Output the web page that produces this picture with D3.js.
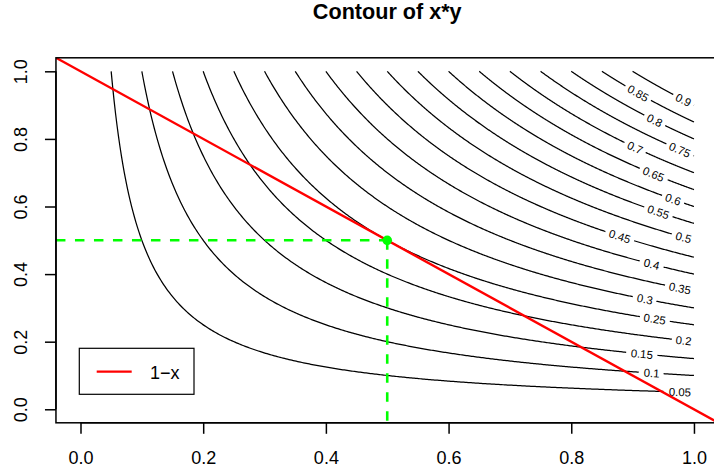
<!DOCTYPE html>
<html>
<head>
<meta charset="utf-8">
<script src="https://cdn.jsdelivr.net/npm/d3@7"></script>
<style>
  html, body { margin: 0; padding: 0; background: #fff; }
  svg { display: block; }
  text { font-family: "Liberation Sans", Arial, Helvetica, sans-serif; }
</style>
</head>
<body>
<svg id="chart" width="714" height="474"></svg>
<script>
// ---- data ----
const title = "Contour of x*y";
const levels = [0.05, 0.1, 0.15, 0.2, 0.25, 0.3, 0.35, 0.4, 0.45, 0.5, 0.55, 0.6, 0.65, 0.7, 0.75, 0.8, 0.85, 0.9];
const levelLabels = ["0.05","0.1","0.15","0.2","0.25","0.3","0.35","0.4","0.45","0.5","0.55","0.6","0.65","0.7","0.75","0.8","0.85","0.9"];
const labelX = [0.977, 0.931, 0.915, 0.983, 0.936, 0.920, 0.977, 0.931, 0.879, 0.983, 0.942, 0.966, 0.934, 0.904, 0.977, 0.936, 0.909, 0.983];
const xTicks = [0, 0.2, 0.4, 0.6, 0.8, 1.0];
const xTickLabels = ["0.0", "0.2", "0.4", "0.6", "0.8", "1.0"];
const yTicks = [0, 0.2, 0.4, 0.6, 0.8, 1.0];
const yTickLabels = ["0.0", "0.2", "0.4", "0.6", "0.8", "1.0"];
const lineX = [-0.04, 1.04];          // 1 - x
const lineIntercept = 1;
const lineSlope = -1;
const optimum = [0.5, 0.5];
const legendLabels = ["1\u2212x"];
const gridRange = [0, 1];

// ---- layout ----
const svg = d3.select("#chart");
const x = d3.scaleLinear().domain([-0.04, 1.04]).range([55.96, 718.5]);
const y = d3.scaleLinear().domain([-0.04, 1.04]).range([422.8, 57.8]);
const [px0, px1] = x.range();
const [py0, py1] = y.range();

svg.append("defs").append("clipPath").attr("id", "plotclip")
  .append("rect").attr("x", px0).attr("y", py1).attr("width", px1 - px0).attr("height", py0 - py1);

const plot = svg.append("g").attr("clip-path", "url(#plotclip)");

// ---- contours ----
const labelSize = 11.4;
const measure = svg.append("text").attr("font-size", labelSize).attr("visibility", "hidden");
levels.forEach((c, i) => {
  // sample the iso-line x*y = c over the grid range
  const xs = [];
  const n = 400;
  const xStart = Math.max(gridRange[0], c / gridRange[1]);
  for (let k = 0; k <= n; k++) xs.push(xStart + (gridRange[1] - xStart) * k / n);
  const pts = xs.map(v => [x(v), y(c / v)]);
  // arclength
  const s = [0];
  for (let k = 1; k < pts.length; k++) {
    s.push(s[k - 1] + Math.hypot(pts[k][0] - pts[k - 1][0], pts[k][1] - pts[k - 1][1]));
  }
  const lx = x(labelX[i]), ly = y(c / labelX[i]);
  let kc = 0, best = Infinity;
  pts.forEach((p, k) => { const d = Math.hypot(p[0] - lx, p[1] - ly); if (d < best) { best = d; kc = k; } });
  const sc = s[kc];
  measure.text(levelLabels[i]);
  const w = measure.node().getComputedTextLength();
  const half = w / 2 + 3.5;
  const seg1 = pts.filter((p, k) => s[k] <= sc - half);
  const seg2 = pts.filter((p, k) => s[k] >= sc + half);
  const line = d3.line();
  [seg1, seg2].forEach(seg => {
    if (seg.length > 1) plot.append("path").attr("d", line(seg))
      .attr("fill", "none").attr("stroke", "#000").attr("stroke-width", 1.25);
  });
  const a = pts[Math.max(0, kc - 3)], b = pts[Math.min(pts.length - 1, kc + 3)];
  const ang = Math.atan2(b[1] - a[1], b[0] - a[0]) * 180 / Math.PI;
  plot.append("text")
    .attr("transform", `translate(${lx},${ly}) rotate(${ang})`)
    .attr("text-anchor", "middle")
    .attr("dy", "0.36em")
    .attr("font-size", labelSize)
    .attr("fill", "#000")
    .text(levelLabels[i]);
});
measure.remove();

// ---- red line 1 - x ----
plot.append("path")
  .attr("d", d3.line()(lineX.map(v => [x(v), y(lineIntercept + lineSlope * v)])))
  .attr("stroke", "#ff0000").attr("stroke-width", 2.4).attr("fill", "none");

// ---- green dashed guides ----
plot.append("path")
  .attr("d", d3.line()([[x(-0.04), y(optimum[1])], [x(optimum[0]), y(optimum[1])]]))
  .attr("stroke", "#00ff00").attr("stroke-width", 2.6).attr("stroke-dasharray", "9.5,9.5").attr("fill", "none");
plot.append("path")
  .attr("d", d3.line()([[x(optimum[0]), y(optimum[1])], [x(optimum[0]), y(-0.04)]]))
  .attr("stroke", "#00ff00").attr("stroke-width", 2.6).attr("stroke-dasharray", "9.5,9.5").attr("fill", "none");
plot.append("circle")
  .attr("cx", x(optimum[0])).attr("cy", y(optimum[1])).attr("r", 4.8)
  .attr("fill", "#00ff00");

// ---- box ----
svg.append("rect").attr("x", px0).attr("y", py1).attr("width", px1 - px0).attr("height", py0 - py1)
  .attr("fill", "none").attr("stroke", "#000").attr("stroke-width", 1.5);

// ---- axes ----
const fs = 18;
const xAxis = svg.append("g").attr("transform", `translate(0,${py0})`)
  .call(d3.axisBottom(x).tickValues(xTicks).tickFormat((d, i) => xTickLabels[i]).tickSize(11).tickPadding(17).tickSizeOuter(0));
xAxis.select(".domain").attr("d", `M${x(xTicks[0])},0H${x(xTicks[xTicks.length - 1])}`).attr("stroke-width", 1.5);
xAxis.selectAll(".tick line").attr("stroke-width", 1.5);
xAxis.selectAll("text").attr("font-size", fs).attr("font-family", "Liberation Sans, Arial, sans-serif").attr("fill", "#000");

const yAxis = svg.append("g").attr("transform", `translate(${px0},0)`)
  .call(d3.axisLeft(y).tickValues(yTicks).tickFormat((d, i) => yTickLabels[i]).tickSize(11).tickSizeOuter(0));
yAxis.select(".domain").attr("d", `M0,${y(yTicks[0])}V${y(yTicks[yTicks.length - 1])}`).attr("stroke-width", 1.5);
yAxis.selectAll(".tick line").attr("stroke-width", 1.5);
yAxis.selectAll("text")
  .attr("font-size", fs).attr("font-family", "Liberation Sans, Arial, sans-serif").attr("fill", "#000")
  .attr("x", null).attr("dy", null)
  .attr("text-anchor", "middle")
  .attr("transform", `translate(${27 - px0},0) rotate(-90)`);

// ---- title ----
svg.append("text").attr("x", (px0 + px1) / 2).attr("y", 18.5)
  .attr("text-anchor", "middle").attr("font-weight", "bold").attr("font-size", 21.6)
  .text(title);

// ---- legend ----
const lg = svg.append("g");
lg.append("rect").attr("x", 79.3).attr("y", 348.3).attr("width", 114.7).attr("height", 46)
  .attr("fill", "#fff").attr("stroke", "#000").attr("stroke-width", 1.2);
legendLabels.forEach((lab, i) => {
  lg.append("line").attr("x1", 96.7).attr("x2", 131.7).attr("y1", 371.7 + i * 22).attr("y2", 371.7 + i * 22)
    .attr("stroke", "#ff0000").attr("stroke-width", 2.2);
  lg.append("text").attr("x", 150).attr("y", 378.5 + i * 22).attr("font-size", fs).text(lab);
});
</script>
</body>
</html>
